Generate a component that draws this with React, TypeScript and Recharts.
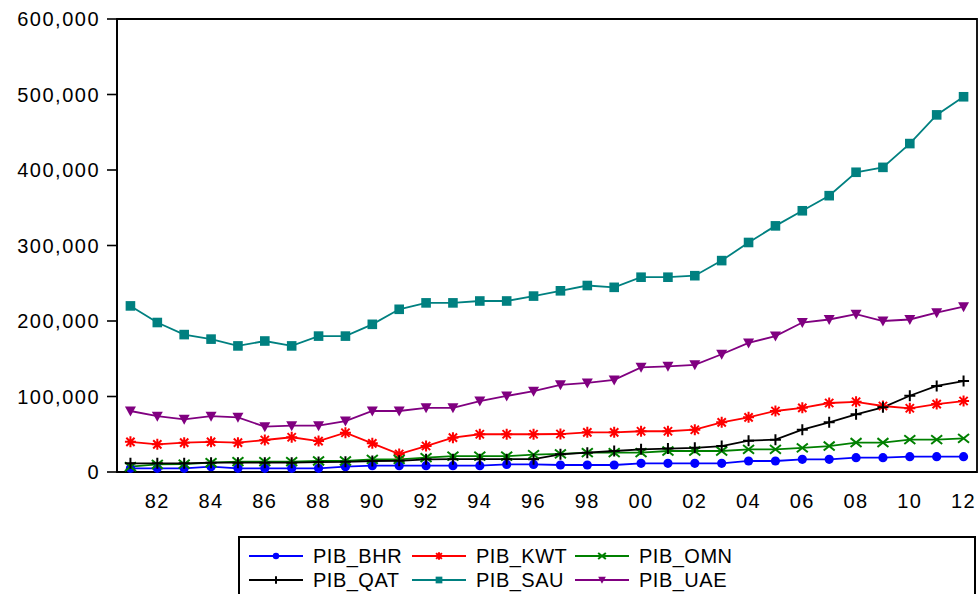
import React from 'react';
import { LineChart, Line, XAxis, YAxis, ReferenceArea } from 'recharts';

const years = [
  1981, 1982, 1983, 1984, 1985, 1986, 1987, 1988, 1989, 1990, 1991, 1992, 1993, 1994, 1995, 1996,
  1997, 1998, 1999, 2000, 2001, 2002, 2003, 2004, 2005, 2006, 2007, 2008, 2009, 2010, 2011, 2012,
];

const pibBhr = [
  4900, 4900, 4900, 7000, 4900, 4900, 4900, 4900, 7000, 8400, 8400, 8400, 8400, 8400, 10000, 10000,
  9300, 9300, 9300, 11500, 11500, 11500, 11500, 14600, 14600, 16800, 16800, 19000, 19000, 20300, 20300, 20300,
];
const pibKwt = [
  40000, 36600, 38800, 40000, 38800, 42400, 46000, 41000, 52000, 38000, 23800, 34400, 45500, 50000, 50000, 50000,
  50300, 52500, 52500, 54000, 54000, 56000, 65800, 72400, 80800, 85000, 91400, 93000, 87400, 84400, 90000, 94000,
];
const pibOmn = [
  7000, 10000, 10400, 12300, 13700, 13700, 13700, 14600, 14600, 16800, 16800, 19000, 21000, 21000, 21000, 23000,
  24000, 25600, 25600, 25600, 27800, 27800, 27800, 30000, 30000, 32000, 34400, 39000, 39000, 42800, 42800, 44600,
];
const pibQat = [
  11500, 11500, 11500, 12300, 12300, 12300, 12300, 13200, 13500, 14600, 14800, 16800, 17000, 17000, 17000, 17000,
  23400, 25600, 27800, 30000, 31000, 32000, 34400, 41500, 42800, 56000, 65800, 76400, 85700, 101000, 114000, 120500,
];
const pibSau = [
  220000, 198000, 182000, 176000, 167000, 173500, 167000, 180000, 180000, 195600, 215500, 224000, 224000, 226500, 226500, 233000,
  240000, 247000, 244600, 258000, 258000, 260000, 280000, 304000, 326000, 346000, 366000, 397000, 403500, 435000, 473000, 497000,
];
const pibUae = [
  80800, 74000, 69800, 74000, 72400, 60000, 61300, 61300, 67500, 80800, 80800, 85000, 85000, 94000, 100700, 107000,
  115500, 118000, 122000, 138600, 140000, 142000, 156000, 171000, 180000, 198000, 202000, 209000, 200000, 202000, 211000, 219000,
];

const yTicks = [0, 100000, 200000, 300000, 400000, 500000, 600000];
const yearEdges = [1980.5, ...years.map((y) => y + 0.5)];
const yearLabels = years.filter((y) => y % 2 === 0);

const series = [
  { key: 'PIB_BHR', color: '#0000ff', marker: 'circle', values: pibBhr },
  { key: 'PIB_KWT', color: '#ff0000', marker: 'star', values: pibKwt },
  { key: 'PIB_OMN', color: '#008000', marker: 'cross', values: pibOmn },
  { key: 'PIB_QAT', color: '#000000', marker: 'plus', values: pibQat },
  { key: 'PIB_SAU', color: '#008080', marker: 'square', values: pibSau },
  { key: 'PIB_UAE', color: '#800080', marker: 'triangle', values: pibUae },
];

const data = years.map((year, i) => {
  const row: Record<string, number> = { year };
  series.forEach((s) => (row[s.key] = s.values[i]));
  return row;
});

const FONT = '"Liberation Sans", Arial, sans-serif';

function Marker({ kind, cx, cy, color, s = 1 }: { kind: string; cx: number; cy: number; color: string; s?: number }) {
  if (kind === 'circle') return <circle cx={cx} cy={cy} r={4.6 * s} fill={color} />;
  if (kind === 'square')
    return <rect x={cx - 4.8 * s} y={cy - 4.8 * s} width={9.6 * s} height={9.6 * s} fill={color} />;
  if (kind === 'triangle') {
    const w = 5.5 * s;
    return <path d={`M${cx - w},${cy - 4.5 * s}L${cx + w},${cy - 4.5 * s}L${cx},${cy + 5.5 * s}Z`} fill={color} />;
  }
  const r = 5.5 * s;
  if (kind === 'plus')
    return (
      <path d={`M${cx - r},${cy}L${cx + r},${cy}M${cx},${cy - r}L${cx},${cy + r}`} stroke={color} strokeWidth={2} />
    );
  if (kind === 'cross')
    return (
      <path
        d={`M${cx - r},${cy - r * 0.8}L${cx + r},${cy + r * 0.8}M${cx - r},${cy + r * 0.8}L${cx + r},${cy - r * 0.8}`}
        stroke={color}
        strokeWidth={2}
      />
    );
  // asterisk
  const d = r * 0.75;
  return (
    <path
      d={`M${cx - r},${cy}L${cx + r},${cy}M${cx},${cy - r}L${cx},${cy + r}M${cx - d},${cy - d}L${cx + d},${cy + d}M${cx - d},${cy + d}L${cx + d},${cy - d}`}
      stroke={color}
      strokeWidth={2}
    />
  );
}

function makeDot(kind: string, color: string) {
  return (props: any) => {
    const { cx, cy, index } = props;
    if (cx == null || cy == null) return <g key={index} />;
    return (
      <g key={index}>
        <Marker kind={kind} cx={cx} cy={cy} color={color} />
      </g>
    );
  };
}

function ChartLegend() {
  return (
    <div
      style={{
        position: 'absolute',
        left: 238,
        top: 536,
        width: 738,
        height: 70,
        border: '2px solid #000',
        boxSizing: 'border-box',
        background: '#fff',
        fontFamily: FONT,
        fontSize: 20,
        color: '#000',
      }}
    >
      {series.map((s, i) => {
        const col = i % 3;
        const row = Math.floor(i / 3);
        return (
          <div
            key={s.key}
            style={{
              position: 'absolute',
              left: 9 + col * 163,
              top: 6 + row * 24,
              height: 24,
              display: 'flex',
              alignItems: 'center',
              whiteSpace: 'nowrap',
              letterSpacing: 0.5,
            }}
          >
            <svg width={54} height={24} style={{ marginRight: 10 }}>
              <line x1={0} y1={12} x2={54} y2={12} stroke={s.color} strokeWidth={1.8} />
              <Marker kind={s.marker} cx={27} cy={12} color={s.color} s={0.7} />
            </svg>
            {s.key}
          </div>
        );
      })}
    </div>
  );
}

export default function App() {
  return (
    <div style={{ position: 'absolute', left: 0, top: 0, width: 980, height: 594, overflow: 'hidden', background: '#fff' }}>
      <LineChart width={980} height={594} data={data} margin={{ top: 19, right: 3, left: 0, bottom: 76 }}>
        <XAxis
          xAxisId="edges"
          dataKey="year"
          type="number"
          domain={[1980.5, 2012.5]}
          ticks={yearEdges}
          interval={0}
          tick={false}
          tickSize={10}
          height={10}
          axisLine={{ stroke: '#000', strokeWidth: 1.8 }}
          tickLine={{ stroke: '#000', strokeWidth: 1.6 }}
        />
        <XAxis
          xAxisId="labels"
          dataKey="year"
          type="number"
          domain={[1980.5, 2012.5]}
          ticks={yearLabels}
          interval={0}
          tickFormatter={(v: number) => String(v).slice(2)}
          axisLine={false}
          tickLine={false}
          tickSize={0}
          tickMargin={12}
          height={36}
          tick={{ fill: '#000', fontSize: 20, fontFamily: FONT, letterSpacing: 1.5 }}
        />
        <YAxis
          domain={[0, 600000]}
          ticks={yTicks}
          interval={0}
          width={117}
          tickSize={10}
          tickMargin={7}
          tickFormatter={(v: number) => v.toLocaleString('en-US')}
          axisLine={{ stroke: '#000', strokeWidth: 1.8 }}
          tickLine={{ stroke: '#000', strokeWidth: 1.6 }}
          tick={{ fill: '#000', fontSize: 20, fontFamily: FONT, letterSpacing: 1.5 }}
        />
        <ReferenceArea
          xAxisId="edges"
          x1={1980.5}
          x2={2012.5}
          y1={0}
          y2={600000}
          fill="none"
          fillOpacity={0}
          stroke="#000"
          strokeWidth={1.8}
        />
        {series.map((s) => (
          <Line
            key={s.key}
            xAxisId="edges"
            dataKey={s.key}
            stroke={s.color}
            strokeWidth={1.8}
            type="linear"
            dot={makeDot(s.marker, s.color)}
            activeDot={false}
            isAnimationActive={false}
          />
        ))}
      </LineChart>
      <ChartLegend />
    </div>
  );
}
